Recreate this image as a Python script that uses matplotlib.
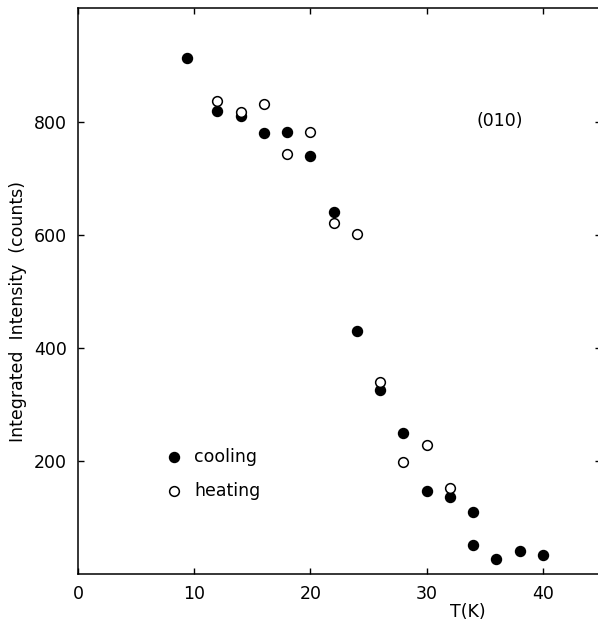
import matplotlib
matplotlib.use("Agg")
import matplotlib.pyplot as plt

# Data
cool_T = [9.4, 12, 14, 16, 18, 20, 22, 24, 26, 28, 30, 32, 34, 34, 36, 38, 40]
cool_I = [913, 819, 810, 780, 782, 740, 640, 431, 326, 250, 147, 136, 110, 51, 26, 40, 34]
heat_T = [12, 14, 16, 18, 20, 22, 24, 26, 28, 30, 32]
heat_I = [837, 818, 832, 743, 782, 622, 602, 340, 199, 229, 153]

xticks = [0, 10, 20, 30, 40]
yticks = [200, 400, 600, 800]

plt.rcParams['font.family'] = ['DejaVu Sans']
fig = plt.figure(figsize=(5.98, 6.26), dpi=100)
ax = fig.add_axes([78/598, 52/626, 523/598, 566/626])

ax.plot(cool_T, cool_I, 'o', color='black', markersize=7.2, linestyle='none')
ax.plot(heat_T, heat_I, 'o', markerfacecolor='white', markeredgecolor='black',
        markeredgewidth=1.1, markersize=7.0, linestyle='none')

ax.set_xlim(0, 45)
ax.set_ylim(0, 1002)
ax.set_xticks(xticks)
ax.set_yticks(yticks)
ax.tick_params(direction='in', length=4, width=1, labelsize=12.5,
               top=True, right=True, pad=8)
for s in ax.spines.values():
    s.set_linewidth(1.1)
ax.spines['right'].set_visible(False)

ax.set_ylabel('Integrated  Intensity  (counts)', fontsize=12.5)
ax.yaxis.set_label_coords((27-78)/523, (626-311-52)/566)
ax.set_xlabel('T(K)', fontsize=12.5, labelpad=4)
ax.xaxis.set_label_coords((468-78)/523, -0.052)

ax.text((500-78)/523, (626-121-52)/566, '(010)', transform=ax.transAxes,
        ha='center', va='center', fontsize=12.5)

# legend drawn manually to match reference placement
ax.plot([(174-78)/523], [(626-457-52)/566], 'o', color='black', markersize=7.2,
        transform=ax.transAxes)
ax.plot([(174-78)/523], [(626-491-52)/566], 'o', markerfacecolor='white',
        markeredgecolor='black', markeredgewidth=1.1, markersize=7.0,
        transform=ax.transAxes)
ax.text((194-78)/523, (626-457-52)/566, 'cooling', transform=ax.transAxes,
        ha='left', va='center', fontsize=12.5)
ax.text((194-78)/523, (626-491-52)/566, 'heating', transform=ax.transAxes,
        ha='left', va='center', fontsize=12.5)

fig.savefig('out.png', dpi=100)
